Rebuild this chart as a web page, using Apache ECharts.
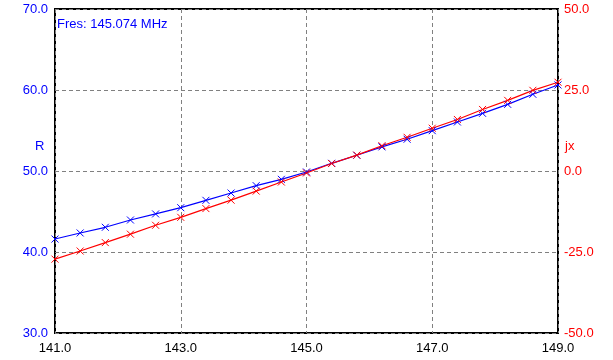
<!DOCTYPE html>
<html>
<head>
<meta charset="utf-8">
<script src="https://cdn.jsdelivr.net/npm/echarts@6/dist/echarts.min.js"></script>
<style>
html, body { margin: 0; padding: 0; background: #fff; }
#chart { width: 613px; height: 360px; }
</style>
</head>
<body>
<div id="chart"></div>
<script>
// frequency in MHz
var freq = [141.0, 141.4, 141.8, 142.2, 142.6, 143.0, 143.4, 143.8, 144.2, 144.6, 145.0,
            145.4, 145.8, 146.2, 146.6, 147.0, 147.4, 147.8, 148.2, 148.6, 149.0];
// resistance R (left axis)
var rValues = [41.6, 42.35, 43.05, 43.95, 44.7, 45.47, 46.38, 47.28, 48.19, 48.97, 49.88,
               50.95, 51.94, 52.98, 53.92, 54.98, 56.05, 57.12, 58.23, 59.47, 60.62];
// reactance jx (right axis)
var jxValues = [-27.2, -24.7, -22.1, -19.5, -16.75, -14.3, -11.6, -9.0, -6.2, -3.4, -0.6,
                2.3, 4.9, 7.8, 10.4, 13.2, 15.9, 19.0, 21.8, 24.9, 27.4];
var fresText = 'Fres: 145.074 MHz';

var FONT = '"Liberation Sans", Arial, sans-serif';
var crossMark = 'path://M0,0L10,10M10,0L0,10';

function pairs(ys) {
    return freq.map(function (f, i) { return [f, ys[i]]; });
}

var chart = echarts.init(document.getElementById('chart'));
chart.setOption({
    animation: false,
    textStyle: { fontFamily: FONT },
    grid: {
        left: 55, right: 55, top: 9, bottom: 27,
        show: true, borderColor: '#000', borderWidth: 2
    },
    xAxis: {
        type: 'value',
        min: 141, max: 149, interval: 2,
        axisLine: { show: false },
        axisTick: { show: false },
        axisLabel: {
            margin: 9, fontSize: 13, color: '#000', fontFamily: FONT,
            formatter: function (v) { return v.toFixed(1); }
        },
        splitLine: { lineStyle: { color: '#808080', type: [4, 3], width: 1 } }
    },
    yAxis: [
        {
            type: 'value',
            min: 30, max: 70, interval: 10,
            axisLine: { show: false },
            axisTick: { show: false },
            axisLabel: {
                margin: 7, fontSize: 13, color: '#0000ff', fontFamily: FONT,
                formatter: function (v) { return v.toFixed(1); }
            },
            splitLine: { lineStyle: { color: '#808080', type: [4, 3], width: 1 } }
        },
        {
            type: 'value',
            min: -50, max: 50, interval: 25,
            axisLine: { show: false },
            axisTick: { show: false },
            axisLabel: {
                margin: 6, fontSize: 13, color: '#ff0000', fontFamily: FONT,
                formatter: function (v) { return v.toFixed(1); }
            },
            splitLine: { show: false }
        }
    ],
    graphic: [
        { type: 'text', left: 57, top: 18, style: { text: fresText, fill: '#0000ff', font: '13px ' + FONT } },
        { type: 'text', left: 35, top: 140, style: { text: 'R', fill: '#0000ff', font: '13px ' + FONT } },
        { type: 'text', left: 565, top: 140, style: { text: 'jx', fill: '#ff0000', font: '13px ' + FONT } }
    ],
    series: [
        {
            name: 'R',
            type: 'line',
            yAxisIndex: 0,
            data: pairs(rValues),
            symbol: crossMark,
            symbolSize: 7,
            lineStyle: { color: '#0000ff', width: 1.2 },
            itemStyle: { color: 'rgba(0,0,0,0)', borderColor: '#0000ff', borderWidth: 1 }
        },
        {
            name: 'jx',
            type: 'line',
            yAxisIndex: 1,
            data: pairs(jxValues),
            symbol: crossMark,
            symbolSize: 7,
            lineStyle: { color: '#ff0000', width: 1.2 },
            itemStyle: { color: 'rgba(0,0,0,0)', borderColor: '#ff0000', borderWidth: 1 }
        }
    ]
});
</script>
</body>
</html>
